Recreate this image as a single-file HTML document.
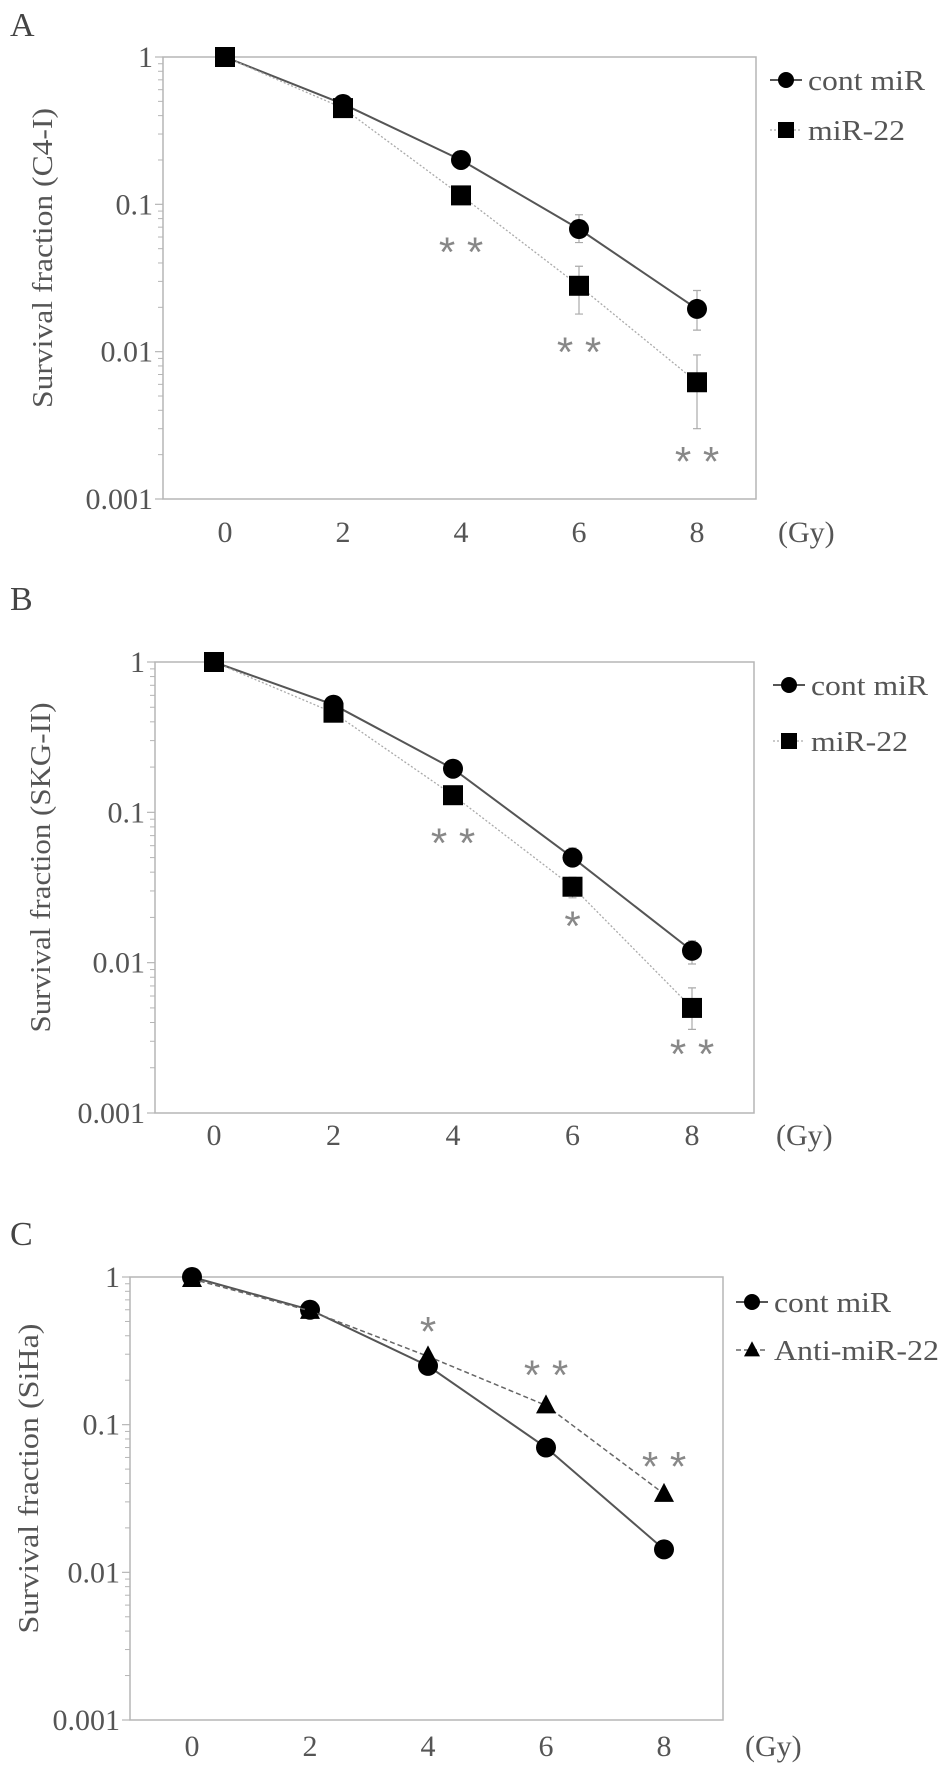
<!DOCTYPE html>
<html><head><meta charset="utf-8"><style>
html,body{margin:0;padding:0;background:#fff;}
svg{display:block;font-family:"Liberation Serif",serif;}
</style></head><body>
<svg id="fig" width="945" height="1772" viewBox="0 0 945 1772"></svg>
<script>
const doses = [0, 2, 4, 6, 8];
const xTickLabels = ["0", "2", "4", "6", "8"];
const yTickValues = [1, 0.1, 0.01, 0.001];
const yTickLabels = ["1", "0.1", "0.01", "0.001"];

const aCont = [1, 0.48, 0.20, 0.068, 0.0195];
const aContLo = [1, 0.46, 0.175, 0.055, 0.014];
const aContHi = [1, 0.50, 0.23, 0.085, 0.026];
const aMir = [1, 0.45, 0.115, 0.028, 0.0062];
const aMirLo = [1, 0.43, 0.10, 0.018, 0.003];
const aMirHi = [1, 0.47, 0.13, 0.038, 0.0095];
const aStars = ["", "", "* *", "* *", "* *"];
const aStarVals = [0, 0, 0.05, 0.0105, 0.0019];

const bCont = [1, 0.52, 0.195, 0.05, 0.012];
const bContLo = [1, 0.50, 0.18, 0.045, 0.0098];
const bContHi = [1, 0.54, 0.21, 0.058, 0.014];
const bMir = [1, 0.46, 0.13, 0.032, 0.005];
const bMirLo = [1, 0.44, 0.12, 0.027, 0.0036];
const bMirHi = [1, 0.48, 0.14, 0.037, 0.0068];
const bStars = ["", "", "* *", "*", "* *"];
const bStarVals = [0, 0, 0.066, 0.0185, 0.0026];

const cCont = [1, 0.6, 0.25, 0.07, 0.0143];
const cAnti = [0.97, 0.59, 0.29, 0.135, 0.034];
const cStars = ["", "", "*", "* *", "* *"];
const cStarVals = [0, 0, 0.45, 0.23, 0.055];

const NS = "http://www.w3.org/2000/svg";
const svg = document.getElementById("fig");
function mk(tag, attrs, parent, text) {
  const e = document.createElementNS(NS, tag);
  for (const k in attrs) e.setAttribute(k, attrs[k]);
  if (text !== undefined) e.textContent = text;
  (parent || svg).appendChild(e);
  return e;
}

function panel(cfg) {
  const g = mk("g", {});
  
  
  const L = cfg.left, R = cfg.right, T = cfg.top, B = cfg.bottom;
  const xs = v => cfg.x0 + v / 2 * cfg.xstep;
  const ys = v => T + (-Math.log10(v)) / 3 * (B - T);

  const lbl = mk("text", {x: 10, y: cfg.letterY, "font-size": 34, fill: "#444"}, g, cfg.letter);
  
  

  const frame = mk("rect", {x: L, y: T, width: R - L, height: B - T, fill: "none", stroke: "#b5b5b5", "stroke-width": 1.5}, g);
  
  

  for (let d = 0; d < 3; d++) {
    for (let m = 2; m <= 9; m++) {
      const v = Math.pow(10, -d - 1) * m;
      const t = mk("line", {x1: L - 5, x2: L, y1: ys(v), y2: ys(v), stroke: "#b5b5b5", "stroke-width": 1}, g);
      
      
    }
  }
  yTickValues.forEach((v, i) => {
    const t = mk("line", {x1: L - 8, x2: L, y1: ys(v), y2: ys(v), stroke: "#b5b5b5", "stroke-width": 1.2}, g);
    
    
    const tx = mk("text", {x: L - 10, y: ys(v) + 10, "font-size": 30, fill: "#555", "text-anchor": "end"}, g, yTickLabels[i]);
    
    
  });
  doses.forEach((d, i) => {
    const tx = mk("text", {x: xs(d), y: cfg.xLabelY + 11, "font-size": 30, fill: "#555", "text-anchor": "middle"}, g, xTickLabels[i]);
    
    
  });
  const gy = mk("text", {x: R + 22, y: cfg.xLabelY + 11, "font-size": 30, fill: "#555"}, g, "(Gy)");
  
  

  const yt = mk("text", {x: 0, y: 0, "font-size": 29, fill: "#555", "text-anchor": "middle", textLength: cfg.titleLen, lengthAdjust: "spacingAndGlyphs", transform: `translate(${cfg.titleX},${(T + B) / 2 - 20}) rotate(-90)`}, g, cfg.title);
  
  

  cfg.series.forEach(s => {
    const pts = doses.map((d, i) => xs(d) + "," + ys(s.vals[i])).join(" ");
    const ln = mk("polyline", {points: pts, fill: "none", stroke: s.lineColor, "stroke-width": s.lineW, "stroke-dasharray": s.dash || "none"}, g);
    
    
    if (s.lo) {
      doses.forEach((d, i) => {
        if (i === 0) return;
        const x = xs(d);
        const eb = mk("path", {d: `M${x},${ys(s.lo[i])}V${ys(s.hi[i])}M${x - 4},${ys(s.lo[i])}h8M${x - 4},${ys(s.hi[i])}h8`, stroke: "#aaa", "stroke-width": 1.2, fill: "none"}, g);
        
        
      });
    }
    doses.forEach((d, i) => {
      const m = marker(g, s.shape, xs(d), ys(s.vals[i]), 1);
      
      
    });
  });

  doses.forEach((d, i) => {
    if (!cfg.stars[i]) return;
    const st = mk("text", {x: xs(d), y: ys(cfg.starVals[i]) + 18, "font-size": 42, fill: "#888", "text-anchor": "middle", "font-family": "Liberation Sans, sans-serif"}, g, cfg.stars[i]);
    
    
  });

  cfg.legend.forEach((l, i) => {
    const lg = mk("g", {}, g);
    
    
    const y = cfg.legY[i];
    mk("line", {x1: cfg.legX - 16, x2: cfg.legX + 16, y1: y, y2: y, stroke: l.lineColor, "stroke-width": l.lineW, "stroke-dasharray": l.dash || "none"}, lg);
    marker(lg, l.shape, cfg.legX, y, 0.8);
    mk("text", {x: cfg.legX + 22, y: y + 10, "font-size": 29, fill: "#555", textLength: l.len, lengthAdjust: "spacingAndGlyphs"}, lg, l.label);
  });
}

function marker(parent, shape, x, y, s) {
  if (shape === "circle") return mk("circle", {cx: x, cy: y, r: 10 * s, fill: "#000"}, parent);
  if (shape === "square") return mk("rect", {x: x - 10 * s, y: y - 10 * s, width: 20 * s, height: 20 * s, fill: "#000"}, parent);
  return mk("path", {d: `M${x},${y - 11 * s}L${x + 10 * s},${y + 8 * s}L${x - 10 * s},${y + 8 * s}Z`, fill: "#000"}, parent);
}

panel({name: "panel-a", letter: "A", letterY: 36, left: 163, right: 756, top: 57, bottom: 499, x0: 225, xstep: 118, xLabelY: 531,
  title: "Survival fraction (C4-I)", titleX: 52, titleLen: 300,
  series: [
    {key: "cont-mir", vals: aCont, lo: aContLo, hi: aContHi, shape: "circle", lineColor: "#555", lineW: 2},
    {key: "mir-22", vals: aMir, lo: aMirLo, hi: aMirHi, shape: "square", lineColor: "#aaa", lineW: 1.3, dash: "2,2"}],
  stars: aStars, starVals: aStarVals,
  legX: 786, legY: [80, 130],
  legend: [{label: "cont miR", shape: "circle", lineColor: "#555", lineW: 2, len: 117},
           {label: "miR-22", shape: "square", lineColor: "#aaa", lineW: 1.3, dash: "2,2", len: 97}]});

panel({name: "panel-b", letter: "B", letterY: 610, left: 155, right: 754, top: 662, bottom: 1113, x0: 214, xstep: 119.5, xLabelY: 1134,
  title: "Survival fraction (SKG-II)", titleX: 50, titleLen: 330,
  series: [
    {key: "cont-mir", vals: bCont, lo: bContLo, hi: bContHi, shape: "circle", lineColor: "#555", lineW: 2},
    {key: "mir-22", vals: bMir, lo: bMirLo, hi: bMirHi, shape: "square", lineColor: "#aaa", lineW: 1.3, dash: "2,2"}],
  stars: bStars, starVals: bStarVals,
  legX: 789, legY: [685, 741],
  legend: [{label: "cont miR", shape: "circle", lineColor: "#555", lineW: 2, len: 117},
           {label: "miR-22", shape: "square", lineColor: "#aaa", lineW: 1.3, dash: "2,2", len: 97}]});

panel({name: "panel-c", letter: "C", letterY: 1245, left: 130, right: 723, top: 1277, bottom: 1720, x0: 192, xstep: 118, xLabelY: 1745,
  title: "Survival fraction (SiHa)", titleX: 38, titleLen: 310,
  series: [
    {key: "cont-mir", vals: cCont, shape: "circle", lineColor: "#555", lineW: 2},
    {key: "anti-mir-22", vals: cAnti, shape: "triangle", lineColor: "#666", lineW: 1.5, dash: "5,3"}],
  stars: cStars, starVals: cStarVals,
  legX: 752, legY: [1302, 1350],
  legend: [{label: "cont miR", shape: "circle", lineColor: "#555", lineW: 2, len: 117},
           {label: "Anti-miR-22", shape: "triangle", lineColor: "#666", lineW: 1.5, dash: "5,3", len: 165}]});
</script>
</body></html>
